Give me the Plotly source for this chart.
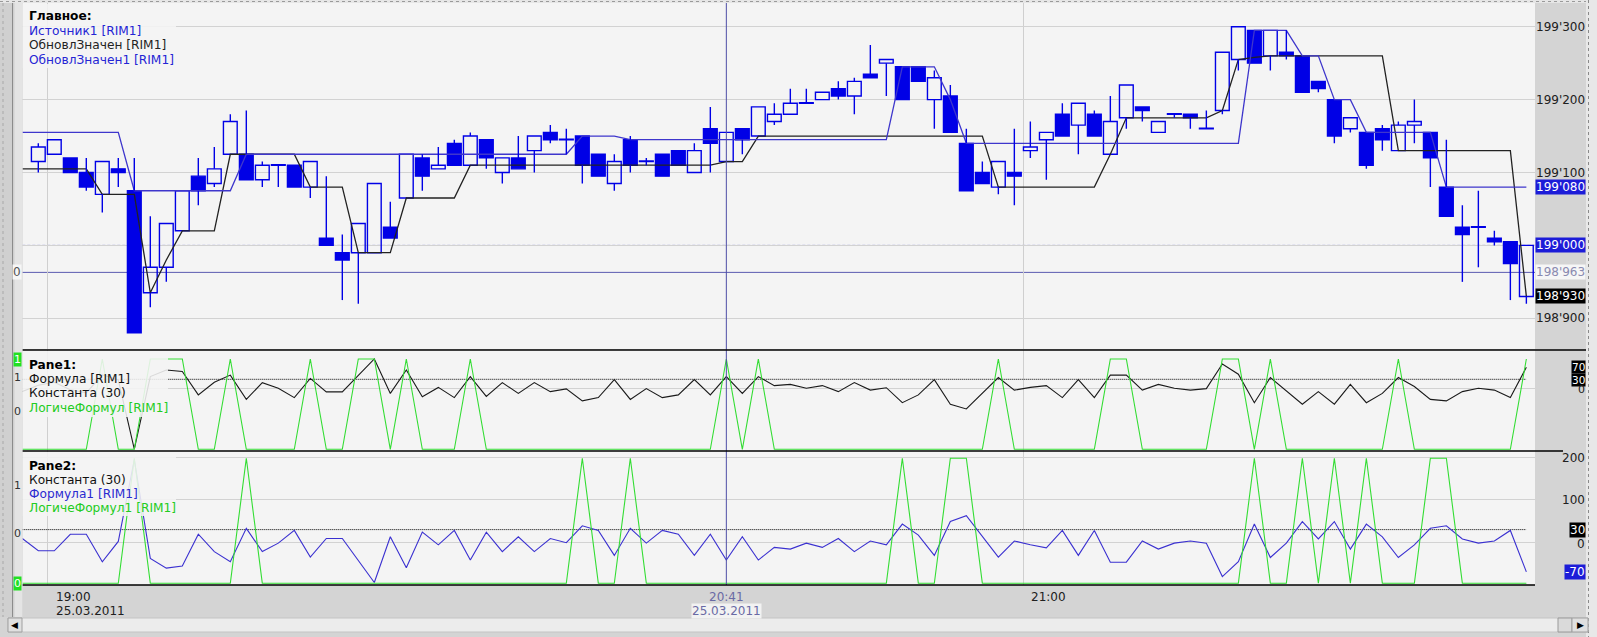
import plotly.graph_objects as go

# ---------------- data ----------------
CANDLE_X = list(range(0, 94))
LINE_X = list(range(-1, 94))

OPEN = [199115, 199125, 199120, 199100, 199070, 199105, 199075, 198935, 198970, 199020,
        199095, 199085, 199125, 199125, 199090, 199110, 199110, 199080, 199010, 198990,
        198990, 198990, 199025, 199065, 199120, 199105, 199140, 199110, 199145, 199100,
        199120, 199130, 199155, 199145, 199150, 199125, 199085, 199145, 199115, 199125,
        199130, 199100, 199160, 199115, 199160, 199150, 199170, 199180, 199195, 199200,
        199215, 199205, 199235, 199250, 199245, 199245, 199200, 199205, 199140, 199100,
        199080, 199100, 199130, 199145, 199180, 199165, 199180, 199125, 199175, 199190,
        199155, 199180, 199180, 199160, 199185, 199255, 199295, 199260, 199265, 199260,
        199225, 199200, 199160, 199155, 199160, 199130, 199165, 199155, 199080, 199025,
        199025, 199010, 199005, 198930]
CLOSE = [199135, 199145, 199100, 199080, 199115, 199100, 198880, 198970, 199030, 199075,
         199075, 199105, 199170, 199090, 199110, 199110, 199080, 199115, 199000, 198980,
         199030, 199085, 199010, 199125, 199095, 199110, 199110, 199150, 199120, 199120,
         199105, 199150, 199145, 199145, 199110, 199095, 199115, 199110, 199115, 199095,
         199110, 199130, 199140, 199155, 199145, 199190, 199180, 199195, 199195, 199210,
         199205, 199225, 199230, 199255, 199200, 199225, 199230, 199155, 199075, 199085,
         199115, 199095, 199135, 199155, 199150, 199195, 199150, 199170, 199220, 199185,
         199170, 199180, 199175, 199160, 199265, 199300, 199250, 199295, 199260, 199210,
         199215, 199150, 199175, 199110, 199145, 199165, 199170, 199120, 199040, 199015,
         199025, 199005, 198975, 199000]
HIGH = [199140, 199145, 199120, 199120, 199115, 199120, 199120, 199040, 199030, 199075,
        199120, 199135, 199180, 199185, 199115, 199110, 199110, 199115, 199095, 199015,
        199030, 199085, 199060, 199125, 199125, 199135, 199145, 199155, 199145, 199120,
        199150, 199150, 199165, 199160, 199150, 199125, 199125, 199150, 199120, 199125,
        199130, 199140, 199190, 199155, 199160, 199190, 199195, 199215, 199215, 199210,
        199225, 199230, 199275, 199255, 199245, 199245, 199240, 199220, 199160, 199115,
        199115, 199160, 199170, 199155, 199195, 199195, 199185, 199205, 199220, 199190,
        199170, 199180, 199180, 199185, 199265, 199300, 199295, 199295, 199295, 199260,
        199225, 199200, 199175, 199155, 199165, 199170, 199200, 199155, 199145, 199055,
        199075, 199020, 199005, 199000]
LOW = [199100, 199125, 199100, 199075, 199045, 199080, 198880, 198915, 198950, 199020,
       199055, 199080, 199125, 199090, 199080, 199080, 199080, 199065, 199000, 198925,
       198920, 198990, 199010, 199065, 199075, 199105, 199110, 199110, 199105, 199085,
       199105, 199100, 199140, 199125, 199085, 199095, 199075, 199100, 199110, 199095,
       199110, 199100, 199100, 199115, 199125, 199150, 199165, 199180, 199195, 199200,
       199200, 199180, 199230, 199205, 199200, 199225, 199160, 199155, 199075, 199085,
       199070, 199055, 199120, 199090, 199150, 199125, 199150, 199125, 199160, 199170,
       199155, 199175, 199160, 199160, 199180, 199240, 199250, 199240, 199255, 199210,
       199210, 199140, 199155, 199105, 199130, 199130, 199140, 199080, 199040, 198950,
       198970, 199000, 198925, 198920]

# ОбновлЗначен1 (blue) and ОбновлЗначен (black), index -1..93
UPD_BLUE = [199155, 199155, 199155, 199155, 199155, 199155, 199155,
            199075, 199075, 199075, 199075, 199075, 199075, 199075,
            199125, 199125, 199125, 199125, 199125, 199125, 199125, 199125, 199125, 199125,
            199125, 199125, 199125, 199125, 199125, 199125, 199125, 199125, 199125, 199125, 199125,
            199150, 199150, 199150,
            199145, 199145, 199145, 199145, 199145, 199145, 199145, 199145, 199145, 199145,
            199145, 199145, 199145, 199145, 199145, 199145, 199145,
            199245, 199245, 199245,
            199200,
            199140, 199140, 199140, 199140, 199140, 199140, 199140, 199140, 199140, 199140,
            199140, 199140, 199140, 199140, 199140, 199140, 199140, 199140,
            199295, 199295, 199295,
            199260, 199260,
            199200, 199200,
            199155, 199155, 199155, 199155, 199155,
            199080, 199080, 199080, 199080, 199080, 199080]
UPD_BLACK = [199105, 199105, 199105, 199105, 199105,
             199070, 199070, 199070,
             198935, 198980,
             199020, 199020, 199020,
             199125, 199125, 199125, 199125, 199125,
             199080, 199080, 199080,
             198990, 198990, 198990,
             199065, 199065, 199065, 199065,
             199110, 199110, 199110, 199110, 199110, 199110, 199110, 199110,
             199110, 199110, 199110, 199110, 199110, 199110, 199110, 199110,
             199115, 199115,
             199150, 199150, 199150, 199150, 199150, 199150, 199150, 199150,
             199150, 199150, 199150, 199150, 199150, 199150, 199150,
             199080, 199080, 199080, 199080, 199080, 199080, 199080,
             199125,
             199175, 199175, 199175, 199175, 199175, 199175,
             199185, 199255, 199258,
             199260, 199260, 199260, 199260, 199260, 199260, 199260, 199260,
             199130, 199130, 199130, 199130, 199130, 199130, 199130, 199130,
             198930]

# Pane1: Формула (black) and ЛогичеФормул (green), index -1..93
FORMULA = [-11, 10, 20, -5, -15, 45, 28, -203, 39, 61, 56,
           -22, 20, 44, -37, 19, 0, -31, 33, -12, -12,
           44, 98, -17, 61, -28, 3, -31, 39, -27, 19,
           -17, 19, -11, -2, -42, -31, 29, -37, -1, -31,
           -22, 29, -22, 39, -17, 39, 9, 13, 0, 9,
           -11, 19, -6, 2, -48, -22, 29, -53, -69, -17,
           36, -6, 3, 9, -31, 29, -31, 44, 44, -6,
           13, 0, -6, -1, 81, 47, -48, 36, -8, -53,
           -11, -53, 13, -48, -17, 36, 6, -37, -42, -11,
           0, -6, -31, 70]
LOGIC = [0, 0, 0, 0, 0, 1, 0, 0, 1, 1, 1,
         0, 0, 1, 0, 0, 0, 0, 1, 0, 0,
         1, 1, 0, 1, 0, 0, 0, 1, 0, 0,
         0, 0, 0, 0, 0, 0, 0, 0, 0, 0,
         0, 0, 0, 1, 0, 1, 0, 0, 0, 0,
         0, 0, 0, 0, 0, 0, 0, 0, 0, 0,
         1, 0, 0, 0, 0, 0, 0, 1, 1, 0,
         0, 0, 0, 0, 1, 1, 0, 1, 0, 0,
         0, 0, 0, 0, 0, 1, 0, 0, 0, 0,
         0, 0, 0, 1]

# Pane2: Формула1 (blue) and ЛогичеФормул1 (green), index -1..93
FORMULA1 = [9, -20, -20, 19, 19, -46, 2, 195, -38, -61, -56,
            19, -22, -46, 33, -22, -2, 28, -35, 9, 9,
            -42, -95, 13, -60, 24, -6, 28, -42, 24, -22,
            13, -22, 9, -1, 39, 28, -31, 33, -2, 28,
            19, -31, 19, -42, 13, -42, -12, -16, -2, -12,
            9, -22, 3, -6, 43, 17, -31, 49, 63, 13,
            -35, 3, -6, -13, 28, -31, 28, -47, -47, 3,
            -16, -2, 3, -2, -81, -46, 43, -36, -2, 49,
            8, 49, -16, 43, 13, -36, -6, 33, 39, 8,
            -2, 3, 28, -70]
LOGIC1 = [0, 0, 0, 0, 0, 0, 0, 1, 0, 0, 0,
          0, 0, 0, 1, 0, 0, 0, 0, 0, 0,
          0, 0, 0, 0, 0, 0, 0, 0, 0, 0,
          0, 0, 0, 0, 1, 0, 0, 1, 0, 0,
          0, 0, 0, 0, 0, 0, 0, 0, 0, 0,
          0, 0, 0, 0, 1, 0, 0, 1, 1, 0,
          0, 0, 0, 0, 0, 0, 0, 0, 0, 0,
          0, 0, 0, 0, 0, 0, 1, 0, 0, 1,
          0, 1, 0, 1, 0, 0, 0, 1, 1, 0,
          0, 0, 0, 0]

CONST = 30
PRICE_TICKS = [198900, 199000, 199100, 199200, 199300]
PRICE_LABELS = [198900, 199100, 199200, 199300]
PANE1_TICKS = [0]
PANE2_TICKS = [0, 100, 200]
LEVEL_PRICE = 199000
CROSS_PRICE = 198963
CROSS_INDEX = 43
CROSS_TIME = ("20:41", "25.03.2011")
TIME_GRID = [0.59, 61.55]
TIME_LABELS = [("19:00", "25.03.2011"), ("21:00", "")]

assert len(OPEN) == len(CLOSE) == len(HIGH) == len(LOW) == len(CANDLE_X)
for arr in (UPD_BLUE, UPD_BLACK, FORMULA, LOGIC, FORMULA1, LOGIC1):
    assert len(arr) == len(LINE_X), len(arr)

# ---------------- styling ----------------
W, H = 1597, 637
def px(x): return x / W
def py(y): return 1 - y / H

FONT = "DejaVu Sans"
LEGSIZE = 12.2
BG = "#f4f4f4"
PAPER = "#d4d4d4"
GRID = "#d2d2d2"
CANDLE = "#0000e6"
LINEBLUE = "#3e36cc"
GREEN = "#33dd33"
XDOM = [px(22.3), px(1535)]
XRANGE = [-1, 93.54]

def fmt(v):
    return f"{int(v):,}".replace(",", "'")

fig = go.Figure()

# main pane lines
fig.add_trace(go.Scatter(x=LINE_X, y=UPD_BLACK, mode="lines",
                         line=dict(color="#222222", width=1.3), xaxis="x", yaxis="y"))
fig.add_trace(go.Scatter(x=LINE_X, y=UPD_BLUE, mode="lines",
                         line=dict(color=LINEBLUE, width=1.3), xaxis="x", yaxis="y"))

# candle wicks (outside bodies only)
wx, wy = [], []
for i, o, h, l, c in zip(CANDLE_X, OPEN, HIGH, LOW, CLOSE):
    top, bot = max(o, c), min(o, c)
    if h > top:
        wx += [i, i, None]; wy += [h, top, None]
    if l < bot:
        wx += [i, i, None]; wy += [bot, l, None]
fig.add_trace(go.Scatter(x=wx, y=wy, mode="lines", line=dict(color=CANDLE, width=1.4),
                         xaxis="x", yaxis="y", connectgaps=False))

# candle bodies
bases = [min(o, c) for o, c in zip(OPEN, CLOSE)]
heights = [max(abs(c - o), 0.8) for o, c in zip(OPEN, CLOSE)]
fills = [CANDLE if c <= o else "rgba(0,0,0,0)" for o, c in zip(OPEN, CLOSE)]
fig.add_trace(go.Bar(x=CANDLE_X, y=heights, base=bases, width=0.86,
                     marker=dict(color=fills, line=dict(color=CANDLE, width=1.4)),
                     xaxis="x", yaxis="y"))

DOTTED = "1px,1px"
# pane 1
fig.add_trace(go.Scatter(x=LINE_X, y=[CONST] * len(LINE_X), mode="lines",
                         line=dict(color="#000000", width=1, dash=DOTTED), xaxis="x2", yaxis="y2"))
fig.add_trace(go.Scatter(x=LINE_X, y=FORMULA, mode="lines",
                         line=dict(color="#1a1a1a", width=1.1), xaxis="x2", yaxis="y2"))
fig.add_trace(go.Scatter(x=LINE_X, y=LOGIC, mode="lines",
                         line=dict(color=GREEN, width=1.1), xaxis="x2", yaxis="y3"))

# pane 2
fig.add_trace(go.Scatter(x=LINE_X, y=[CONST] * len(LINE_X), mode="lines",
                         line=dict(color="#000000", width=1, dash=DOTTED), xaxis="x3", yaxis="y4"))
fig.add_trace(go.Scatter(x=LINE_X, y=FORMULA1, mode="lines",
                         line=dict(color="#3a30d0", width=1.1), xaxis="x3", yaxis="y4"))
fig.add_trace(go.Scatter(x=LINE_X, y=LOGIC1, mode="lines",
                         line=dict(color=GREEN, width=1.1), xaxis="x3", yaxis="y5"))

xcommon = dict(domain=XDOM, range=XRANGE, tickvals=TIME_GRID, showticklabels=False, ticks="",
               showgrid=True, gridcolor="#cfcfcf", gridwidth=1, zeroline=False, showline=False,
               fixedrange=True)
ycommon = dict(side="right", showticklabels=False, ticks="", showgrid=True, gridcolor=GRID,
               gridwidth=1, zeroline=False, showline=False, fixedrange=True)

fig.update_layout(
    width=W, height=H, autosize=False, margin=dict(l=0, r=0, t=0, b=0),
    paper_bgcolor=PAPER, plot_bgcolor=BG, showlegend=False, hovermode=False,
    xaxis=dict(anchor="y", **xcommon),
    xaxis2=dict(anchor="y2", matches="x", **xcommon),
    xaxis3=dict(anchor="y4", matches="x", **xcommon),
    yaxis=dict(domain=[py(349), py(3)], range=[198857.9, 199332.5], anchor="x",
               tickvals=PRICE_TICKS, **ycommon),
    yaxis2=dict(domain=[py(451), py(350)], range=[-209, 127.7], anchor="x2",
                tickvals=PANE1_TICKS, **ycommon),
    yaxis3=dict(overlaying="y2", range=[-0.019, 1.0997], anchor="x2", side="left",
                showticklabels=False, showgrid=False, zeroline=False, ticks="", fixedrange=True),
    yaxis4=dict(domain=[py(585), py(451)], range=[-100.9, 215.7], anchor="x3",
                tickvals=PANE2_TICKS, **ycommon),
    yaxis5=dict(overlaying="y4", range=[-0.0136, 1.058], anchor="x3", side="left",
                showticklabels=False, showgrid=False, zeroline=False, ticks="", fixedrange=True),
)

shapes = []
def prect(x0, y0, x1, y1, fill, line=None, layer="above"):
    shapes.append(dict(type="rect", xref="paper", yref="paper", x0=px(x0), x1=px(x1),
                       y0=py(y1), y1=py(y0), fillcolor=fill, layer=layer,
                       line=dict(width=1 if line else 0, color=line or "rgba(0,0,0,0)")))
def pline(x0, y0, x1, y1, color, width=1, dash="solid"):
    shapes.append(dict(type="line", xref="paper", yref="paper", x0=px(x0), x1=px(x1),
                       y0=py(y0), y1=py(y1), line=dict(color=color, width=width, dash=dash)))

# level + crosshair lines in main pane
shapes.append(dict(type="line", xref="paper", yref="y", x0=XDOM[0], x1=XDOM[1],
                   y0=LEVEL_PRICE, y1=LEVEL_PRICE, layer="below",
                   line=dict(color="#5050c8", width=1, dash="3px,2px")))
shapes.append(dict(type="line", xref="paper", yref="y", x0=XDOM[0], x1=XDOM[1],
                   y0=CROSS_PRICE, y1=CROSS_PRICE, layer="below",
                   line=dict(color="#5a5ab0", width=1)))
shapes.append(dict(type="line", xref="x", yref="paper", x0=CROSS_INDEX, x1=CROSS_INDEX,
                   y0=py(585), y1=py(3), line=dict(color="#4e4ea6", width=1)))

# legend boxes (semi-transparent)
prect(22.3, 4, 176, 68, "rgba(244,244,244,0.88)")
prect(22.3, 351, 168, 417, "rgba(244,244,244,0.88)")
prect(22.3, 452, 176, 516, "rgba(244,244,244,0.88)")

# pane separators
pline(22.3, 350, 1586, 350, "#000000", 1.5)
pline(22.3, 451, 1563, 451, "#000000", 1.5)
pline(22.3, 585, 1535, 585, "#000000", 1.5)

# window chrome
prect(0, 0, 1597, 3, "#e6e6e6")
pline(0, 1.5, 1597, 1.5, "#9a9a9a", 1, "dot")
prect(0, 3, 22.3, 617, "#d0d0d0")
pline(3, 3, 3, 617, "#a8a8a8", 1, "dot")
pline(12.5, 3, 12.5, 617, "#8c8c8c", 1)
prect(14.5, 3, 22.3, 617, "#e4e4e4")
prect(1586, 0, 1597, 637, "#e8e8e8")
pline(1588.5, 0, 1588.5, 637, "#8a8a8a", 1, "dot")
prect(0, 617, 1586, 637, "#d4d4d4")
prect(8, 618, 1588, 632, "#ececec", "#c4c4c4")
prect(8, 618, 22, 632, "#e0e0e0", "#a0a0a0")
prect(1558, 618, 1572, 632, "#dadada", "#9a9a9a")
prect(1572, 618, 1588, 632, "#e0e0e0", "#a0a0a0")
fig.update_layout(shapes=shapes)

ann = []
def text(x, y, s, color="#000000", size=LEGSIZE, xanchor="left", yref="paper", xref="paper",
         bg=None, xshift=0, yshift=0, yanchor="middle"):
    d = dict(x=x, y=y, xref=xref, yref=yref, text=s, showarrow=False, xanchor=xanchor,
             yanchor=yanchor, xshift=xshift, yshift=yshift,
             font=dict(family=FONT, size=size, color=color), borderpad=0)
    if bg:
        d["bgcolor"] = bg
    ann.append(d)

# legends
main_leg = [("<b>Главное:</b>", "#000000"), ("Источник1 [RIM1]", "#2424d4"),
            ("ОбновлЗначен [RIM1]", "#222222"), ("ОбновлЗначен1 [RIM1]", "#2424d4")]
for (s, c), yy in zip(main_leg, [16, 30.7, 45.3, 60]):
    text(px(28), py(yy), s, c)
p1_leg = [("<b>Pane1:</b>", "#000000"), ("Формула [RIM1]", "#111111"),
          ("Константа (30)", "#111111"), ("ЛогичеФормул [RIM1]", "#22cc22")]
for (s, c), yy in zip(p1_leg, [364.5, 378.8, 393.3, 408]):
    text(px(28), py(yy), s, c)
p2_leg = [("<b>Pane2:</b>", "#000000"), ("Константа (30)", "#111111"),
          ("Формула1 [RIM1]", "#2a2ad0"), ("ЛогичеФормул1 [RIM1]", "#22cc22")]
for (s, c), yy in zip(p2_leg, [465.7, 480, 494.3, 508.3]):
    text(px(28), py(yy), s, c)

# right axis labels - main pane
RX = px(1586)
for v in PRICE_LABELS:
    text(RX, v, fmt(v), "#202020", 12, "right", "y")
text(RX, UPD_BLUE[-1], fmt(UPD_BLUE[-1]), "#ffffff", 12, "right", "y", bg="#1c1cd8")
text(RX, LEVEL_PRICE, fmt(LEVEL_PRICE), "#ffffff", 12, "right", "y", bg="#1c1cd8")
text(RX, CROSS_PRICE, fmt(CROSS_PRICE), "#8a8ab0", 12, "right", "y", bg="#f6f6f6")
text(RX, UPD_BLACK[-1], fmt(UPD_BLACK[-1]), "#ffffff", 12, "right", "y", bg="#000000")
text(px(22.3), CROSS_PRICE, "0", "#555555", 12, "right", "y", bg="#f6f6f6")

# pane1 labels
text(RX, FORMULA[-1], str(FORMULA[-1]), "#ffffff", 10.5, "right", "y2", bg="#000000", yshift=0.5)
text(RX, CONST, str(CONST), "#ffffff", 10.5, "right", "y2", bg="#000000", yshift=-0.5)
text(RX, 0, "0", "#202020", 11, "right", "y2", yshift=-1.5)
text(px(22.3), 1, "1", "#ffffff", 11, "right", "y3", bg="#22e022")
text(px(22.3), py(377.7), "1", "#333333", 11, "right")
text(px(22.3), py(411.7), "0", "#333333", 11, "right")

# pane2 labels
for v in PANE2_TICKS:
    if v != 0:
        text(RX, v, str(v), "#202020", 12, "right", "y4")
text(RX, CONST, str(CONST), "#ffffff", 12, "right", "y4", bg="#000000")
text(RX, 0, "0", "#202020", 12, "right", "y4", yshift=-2)
text(RX, FORMULA1[-1], str(FORMULA1[-1]), "#ffffff", 12, "right", "y4", bg="#1c1cd8")
text(px(22.3), py(485), "1", "#333333", 11, "right")
text(px(22.3), py(533.3), "0", "#333333", 11, "right")
text(px(22.3), 0, "0", "#ffffff", 11, "right", "y5", bg="#22e022")

# time axis labels
for xv, (t, d) in zip(TIME_GRID, TIME_LABELS):
    text(xv, py(597), t, "#202020", 12, "left", xref="x3", xshift=7)
    if d:
        text(xv, py(611), d, "#202020", 12, "left", xref="x3", xshift=7)
text(CROSS_INDEX, py(597), CROSS_TIME[0], "#6a6aa4", 12, "center", xref="x3")
text(CROSS_INDEX, py(611), CROSS_TIME[1], "#6a6aa4", 12, "center", xref="x3", bg="#f2f2f2")

# scrollbar arrows
text(px(15), py(625), "◀", "#000000", 9, "center")
text(px(1580), py(625), "▶", "#000000", 9, "center")

fig.update_layout(annotations=ann)

fig.write_html("out.html", config={"displayModeBar": False, "staticPlot": True},
               post_script="document.body.style.margin='0';document.body.style.overflow='hidden';")
